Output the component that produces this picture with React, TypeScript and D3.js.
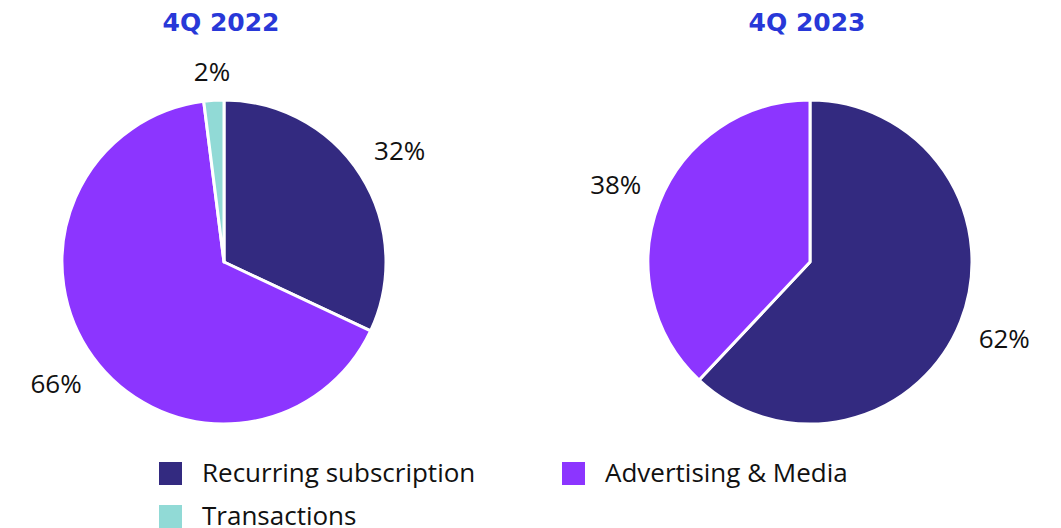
import * as d3 from "d3";

const categories = ["Recurring subscription", "Advertising & Media", "Transactions"];
const colors = ["#332a80", "#8c35ff", "#91dad6"];
const periods = ["4Q 2022", "4Q 2023"];
const shares2022 = [32, 66, 2];
const shares2023 = [62, 38, 0];

const width = 1061;
const height = 528;
const radius = 162;
const centers = [224, 810];
const cy = 262;
const textFont = "'Open Sans', 'Noto Sans', sans-serif";
const titleFont = "'DejaVu Sans', sans-serif";

function PieChart({ title, values, cx }: { title: string; values: number[]; cx: number }) {
  const pie = d3.pie<number>().sort(null).value((d) => d);
  const arcs = pie(values).filter((a) => a.data > 0);
  const arc = d3.arc<d3.PieArcDatum<number>>().innerRadius(0).outerRadius(radius);

  return (
    <g>
      <text x={cx - 3} y={31} textAnchor="middle" fontFamily={titleFont} fontWeight={700} fontSize={25} fill="#2838d8">
        {title}
      </text>
      <g transform={`translate(${cx},${cy})`}>
        {arcs.map((a) => (
          <path key={a.index} d={arc(a) ?? ""} fill={colors[a.index]} stroke="#fff" strokeWidth={3} strokeLinejoin="round" />
        ))}
        {arcs.map((a) => {
          const mid = (a.startAngle + a.endAngle) / 2;
          const label = `${a.data}%`;
          // half width / height of the label box, to keep it clear of the rim
          const hw = ((label.length - 1) * 14.9 + 21.8) / 2;
          const r = radius + 20 + Math.abs(Math.sin(mid)) * hw + Math.abs(Math.cos(mid)) * 8;
          return (
            <text
              key={`l${a.index}`}
              x={Math.sin(mid) * r}
              y={-Math.cos(mid) * r}
              dy="0.36em"
              textAnchor="middle"
              fontFamily={textFont}
              fontWeight={400}
              fontSize={26}
              fill="#111"
            >
              {label}
            </text>
          );
        })}
      </g>
    </g>
  );
}

export default function App() {
  const legendPos = [
    { x: 159, y: 462 },
    { x: 562, y: 462 },
    { x: 159, y: 505 },
  ];
  return (
    <svg width={width} height={height} viewBox={`0 0 ${width} ${height}`} style={{ position: "absolute", left: 0, top: 0 }}>
      <rect width={width} height={height} fill="#fff" />
      <PieChart title={periods[0]} values={shares2022} cx={centers[0]} />
      <PieChart title={periods[1]} values={shares2023} cx={centers[1]} />
      {categories.map((c, i) => (
        <g key={c} transform={`translate(${legendPos[i].x},${legendPos[i].y})`}>
          <rect width={23} height={23} fill={colors[i]} />
          <text x={43} y={20} fontFamily={textFont} fontWeight={400} fontSize={26} fill="#111">
            {c}
          </text>
        </g>
      ))}
    </svg>
  );
}
